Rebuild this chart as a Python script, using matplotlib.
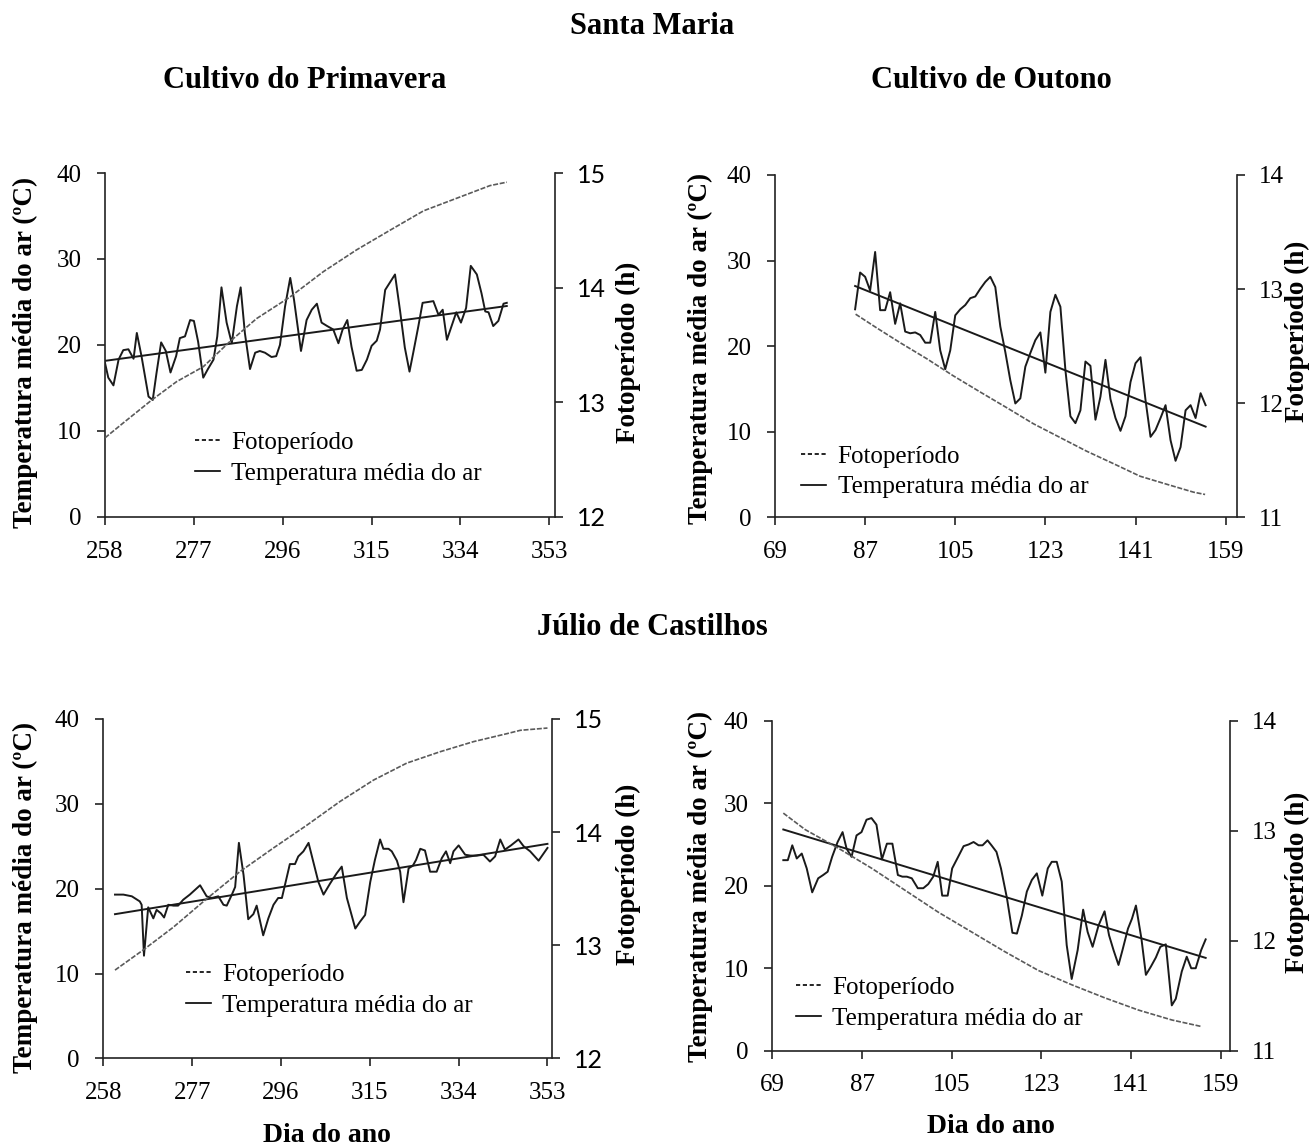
import numpy as np
import matplotlib
matplotlib.use('Agg')
import matplotlib.pyplot as plt
from matplotlib.lines import Line2D

plt.rcParams['font.family'] = ['Liberation Serif', 'DejaVu Serif']

# --- Santa Maria, cultivo de primavera ---
sm_prim_dias = [258.0, 258.7, 259.8, 260.9, 261.9, 263.0, 264.1, 264.8, 265.8, 267.3, 268.2, 269.0,
                270.0, 271.0, 272.0, 273.2, 274.0, 275.1, 276.2, 277.0, 277.9, 279.0, 280.0, 281.2,
                282.0, 282.9, 284.0, 285.1, 286.2, 287.0, 287.9, 289.0, 290.1, 291.1, 292.2, 293.6,
                294.6, 295.4, 296.5, 297.6, 298.4, 299.9, 301.1, 302.2, 303.3, 304.3, 305.5, 306.8,
                307.9, 308.8, 309.8, 310.7, 311.8, 312.9, 314.0, 315.0, 316.1, 316.8, 317.9, 320.0,
                321.1, 322.1, 323.1, 323.9, 325.0, 325.9, 327.1, 328.2, 329.3, 330.2, 331.1, 332.1,
                333.1, 334.1, 335.2, 336.2, 337.5, 338.5, 339.3, 340.0, 341.0, 342.1, 343.2, 343.9]
sm_prim_temp = [17.9, 16.2, 15.3, 18.3, 19.4, 19.5, 18.4, 21.4, 18.7, 14.0, 13.6, 16.7,
                20.3, 19.3, 16.8, 18.7, 20.8, 21.0, 22.9, 22.8, 20.4, 16.2, 17.2, 18.3,
                21.0, 26.7, 22.6, 20.2, 24.5, 26.7, 21.4, 17.2, 19.1, 19.3, 19.1, 18.6,
                18.7, 20.0, 24.5, 27.8, 25.3, 19.3, 22.9, 24.1, 24.8, 22.6, 22.2, 21.8,
                20.2, 21.8, 22.9, 19.8, 17.0, 17.1, 18.3, 19.9, 20.5, 21.8, 26.4, 28.2,
                23.9, 19.7, 16.9, 19.1, 22.2, 24.9, 25.0, 25.1, 23.5, 24.1, 20.6, 22.2,
                23.8, 22.6, 24.3, 29.2, 28.2, 26.0, 23.9, 23.8, 22.2, 22.8, 24.8, 24.9]
sm_prim_foto_dias = [258.0, 261.9, 268.0, 273.3, 279.0, 284.7, 290.4, 297.6, 304.7, 311.8,
                     318.9, 326.1, 333.2, 340.3, 343.9]
sm_prim_foto = [12.69, 12.82, 13.02, 13.18, 13.31, 13.53, 13.73, 13.92, 14.14, 14.33,
                14.50, 14.67, 14.78, 14.89, 14.92]

# --- Santa Maria, cultivo de outono ---
sm_out_dias = list(range(85, 156))
sm_out_temp = [24.3, 28.6, 28.1, 26.5, 31.0, 24.2, 24.2, 26.3, 22.6, 25.0,
               21.7, 21.5, 21.6, 21.3, 20.4, 20.4, 24.0, 19.5, 17.3, 19.5,
               23.6, 24.3, 24.8, 25.6, 25.8, 26.7, 27.5, 28.1, 26.9, 22.3,
               19.3, 16.0, 13.3, 13.9, 17.6, 19.2, 20.7, 21.6, 16.9, 24.0,
               26.0, 24.6, 17.2, 11.8, 11.0, 12.5, 18.2, 17.7, 11.4, 14.1,
               18.4, 13.8, 11.6, 10.1, 11.8, 15.8, 18.0, 18.7, 13.7, 9.4,
               10.2, 11.6, 13.1, 9.0, 6.6, 8.2, 12.5, 13.1, 11.6, 14.5, 13.1]
sm_out_foto_dias = [85.1, 89.3, 94.0, 99.3, 104.6, 109.9, 115.3, 120.6, 125.9, 131.2,
                    136.6, 141.9, 147.2, 152.6, 154.9]
sm_out_foto = [12.78, 12.66, 12.53, 12.39, 12.24, 12.10, 11.96, 11.82, 11.70, 11.58,
               11.47, 11.36, 11.29, 11.22, 11.20]

# --- Julio de Castilhos, cultivo de primavera ---
jc_prim_dias = [260.5, 262.3, 264.1, 265.8, 266.2, 266.7, 267.6, 268.7, 269.4, 270.3,
                271.0, 271.9, 273.0, 274.0, 275.1, 276.5, 278.7, 280.1, 281.2, 282.6,
                283.7, 284.4, 285.5, 286.2, 287.0, 288.0, 289.0, 290.1, 290.8, 292.2,
                293.3, 294.4, 295.4, 296.2, 297.9, 299.0, 299.7, 300.8, 301.9, 302.9,
                304.0, 305.1, 306.5, 307.9, 309.0, 310.1, 311.9, 312.9, 314.0, 315.1,
                316.1, 317.2, 317.9, 319.0, 319.7, 320.8, 321.5, 322.2, 323.3, 324.2,
                324.9, 325.8, 326.8, 327.9, 329.3, 330.4, 331.3, 332.2, 332.9, 334.0,
                335.4, 336.5, 337.9, 339.3, 340.7, 341.8, 342.9, 343.9, 345.2, 346.8,
                347.9, 349.3, 351.1, 353.0]
jc_prim_temp = [19.3, 19.3, 19.1, 18.5, 18.1, 12.1, 17.8, 16.5, 17.5, 17.1,
                16.6, 18.1, 18.0, 18.0, 18.7, 19.3, 20.4, 19.1, 18.9, 19.1,
                18.1, 18.0, 19.3, 20.2, 25.4, 21.6, 16.4, 17.0, 18.0, 14.5,
                16.5, 18.1, 18.9, 18.9, 22.9, 22.9, 23.8, 24.4, 25.4, 23.2,
                20.8, 19.3, 20.6, 21.8, 22.6, 18.9, 15.3, 16.1, 16.9, 20.8,
                23.4, 25.8, 24.7, 24.7, 24.4, 23.3, 22.0, 18.4, 22.4, 22.7,
                23.4, 24.7, 24.5, 22.0, 22.0, 23.6, 24.4, 23.0, 24.4, 25.1,
                24.0, 23.9, 23.9, 24.0, 23.2, 23.8, 25.8, 24.6, 25.1, 25.8,
                25.0, 24.4, 23.3, 24.8]
jc_prim_foto_dias = [260.5, 266.6, 273.0, 280.1, 287.2, 294.4, 301.5, 308.6, 315.8, 322.9,
                     330.0, 337.2, 344.3, 347.2, 353.0]
jc_prim_foto = [12.78, 12.96, 13.16, 13.41, 13.65, 13.86, 14.06, 14.27, 14.46, 14.61,
                14.71, 14.80, 14.87, 14.90, 14.92]

# --- Julio de Castilhos, cultivo de outono ---
jc_out_dias = [71.2, 72.1, 73.0, 73.9, 74.9, 75.9, 77.0, 78.2, 79.2, 80.1,
               81.0, 82.1, 83.1, 83.9, 84.9, 85.9, 86.9, 87.9, 88.9, 89.9,
               91.0, 92.0, 93.1, 94.2, 95.1, 96.0, 97.0, 98.2, 99.3, 100.3,
               101.3, 102.2, 103.1, 104.2, 105.1, 106.3, 107.4, 108.4, 109.4, 110.4,
               111.2, 112.2, 113.0, 114.0, 114.9, 116.1, 117.2, 118.1, 119.1, 120.1,
               121.1, 122.1, 123.2, 124.3, 125.1, 126.1, 127.1, 128.1, 129.1, 130.3,
               131.4, 132.3, 133.3, 134.5, 135.7, 136.6, 137.5, 138.5, 139.3, 140.4,
               141.2, 142.0, 143.1, 144.0, 145.0, 146.0, 146.9, 148.0, 149.2, 150.0,
               151.2, 152.2, 153.1, 154.0, 155.1, 156.0]
jc_out_temp = [23.1, 23.1, 24.9, 23.3, 23.9, 22.1, 19.2, 20.9, 21.3, 21.7,
               23.5, 25.3, 26.5, 24.5, 23.5, 26.1, 26.5, 28.0, 28.2, 27.4,
               23.2, 25.1, 25.1, 21.3, 21.1, 21.1, 20.9, 19.7, 19.7, 20.2,
               21.1, 22.9, 18.8, 18.8, 22.1, 23.5, 24.8, 25.0, 25.3, 24.9,
               24.9, 25.5, 24.9, 24.1, 22.1, 18.5, 14.3, 14.2, 16.4, 19.3,
               20.7, 21.5, 18.8, 22.1, 22.9, 22.9, 20.5, 12.8, 8.7, 12.2,
               17.1, 14.4, 12.6, 15.2, 16.9, 14.0, 12.2, 10.4, 12.2, 14.8,
               16.0, 17.6, 13.6, 9.2, 10.2, 11.3, 12.6, 12.9, 5.5, 6.3,
               9.6, 11.4, 10.0, 10.0, 12.2, 13.5]
jc_out_foto_dias = [71.2, 75.6, 82.3, 88.9, 95.6, 102.3, 109.0, 115.7, 122.4, 129.1,
                    135.8, 142.5, 149.2, 155.2]
jc_out_foto = [13.16, 13.01, 12.84, 12.66, 12.46, 12.26, 12.08, 11.90, 11.73, 11.60,
               11.48, 11.37, 11.28, 11.22]

ticks_prim = [258, 277, 296, 315, 334, 353]
ticks_out = [69, 87, 105, 123, 141, 159]

fig = plt.figure(figsize=(13.16, 11.48), dpi=100)

TICK_FS = 18
LAB_FS = 19.5


def painel(rect, dias, temp, fdias, foto, xlim, xticks, ylim2, fonte_dir, leg_xy):
    ax = fig.add_axes(rect)
    ax.plot(dias, temp, color='#1a1a1a', lw=1.4)
    # linha de tendencia linear
    a, b = np.polyfit(dias, temp, 1)
    xr = np.array([dias[0], dias[-1]])
    ax.plot(xr, a * xr + b, color='#1a1a1a', lw=1.4)
    ax.set_xlim(*xlim)
    ax.set_ylim(0, 40)
    ax.set_xticks(xticks)
    ax.set_yticks([0, 10, 20, 30, 40])
    for s in ['top', 'right']:
        ax.spines[s].set_visible(False)
    for s in ['left', 'bottom']:
        ax.spines[s].set_linewidth(1.2)
        ax.spines[s].set_color('#222222')
    ax.tick_params(direction='out', length=6, width=1.2, color='#222222',
                   labelsize=TICK_FS, pad=11)

    ax2 = ax.twinx()
    ax2.plot(fdias, foto, color='#5a5a5a', lw=1.2, ls=(0, (3, 1)))
    ax2.set_ylim(*ylim2)
    ax2.set_yticks(np.arange(ylim2[0], ylim2[1] + 1))
    for s in ['top', 'left', 'bottom']:
        ax2.spines[s].set_visible(False)
    ax2.spines['right'].set_linewidth(1.2)
    ax2.spines['right'].set_color('#222222')
    ax2.tick_params(direction='out', length=6, width=1.2, color='#222222',
                    labelsize=TICK_FS, pad=10)
    for t in ax2.get_yticklabels():
        t.set_family(fonte_dir)

    handles = [Line2D([], [], color='black', lw=1.2, ls=(0, (2.5, 1.6))),
               Line2D([], [], color='black', lw=1.2)]
    fig.legend(handles, ['Fotoperíodo', 'Temperatura média do ar'],
               loc='center left', bbox_to_anchor=leg_xy, bbox_transform=fig.transFigure,
               frameon=False, fontsize=18, handlelength=1.0, handletextpad=0.45,
               labelspacing=0.32, borderpad=0, borderaxespad=0)
    return ax


painel([0.0798, 0.5497, 0.3419, 0.2996], sm_prim_dias, sm_prim_temp, sm_prim_foto_dias,
       sm_prim_foto, (258, 354.2), ticks_prim, (12, 15), 'Lato', (0.148, 0.601))
painel([0.5889, 0.5494, 0.3508, 0.2982], sm_out_dias, sm_out_temp, sm_out_foto_dias,
       sm_out_foto, (69, 161.2), ticks_out, (11, 14), 'Liberation Serif', (0.609, 0.589))
painel([0.0785, 0.0781, 0.3407, 0.2956], jc_prim_dias, jc_prim_temp, jc_prim_foto_dias,
       jc_prim_foto, (258, 353.9), ticks_prim, (12, 15), 'Lato', (0.141, 0.1376))
painel([0.5869, 0.0847, 0.3478, 0.2875], jc_out_dias, jc_out_temp, jc_out_foto_dias,
       jc_out_foto, (69, 160.9), ticks_out, (11, 14), 'Liberation Serif', (0.605, 0.1263))

# titulos
fig.text(0.4954, 0.9765, 'Santa Maria', ha='center', va='center', fontsize=22, fontweight='bold')
fig.text(0.2318, 0.9303, 'Cultivo do Primavera', ha='center', va='center', fontsize=22, fontweight='bold')
fig.text(0.7530, 0.9303, 'Cultivo de Outono', ha='center', va='center', fontsize=22, fontweight='bold')
fig.text(0.4954, 0.4530, 'Júlio de Castilhos', ha='center', va='center', fontsize=22, fontweight='bold')
fig.text(0.2485, 0.0113, 'Dia do ano', ha='center', va='center', fontsize=20, fontweight='bold')
fig.text(0.7530, 0.0183, 'Dia do ano', ha='center', va='center', fontsize=20, fontweight='bold')

# rotulos dos eixos
ylab = 'Temperatura média do ar (ºC)'
for x, y in [(0.0190, 0.6934), (0.5319, 0.6969), (0.0190, 0.2186), (0.5319, 0.2282)]:
    fig.text(x, y, ylab, rotation=90, ha='center', va='center', fontsize=LAB_FS, fontweight='bold')
for x, y in [(0.4772, 0.6934), (0.9858, 0.7110), (0.4772, 0.2380), (0.9858, 0.2317)]:
    fig.text(x, y, 'Fotoperíodo (h)', rotation=90, ha='center', va='center', fontsize=LAB_FS, fontweight='bold')

fig.savefig('out.png', dpi=100, facecolor='white')
